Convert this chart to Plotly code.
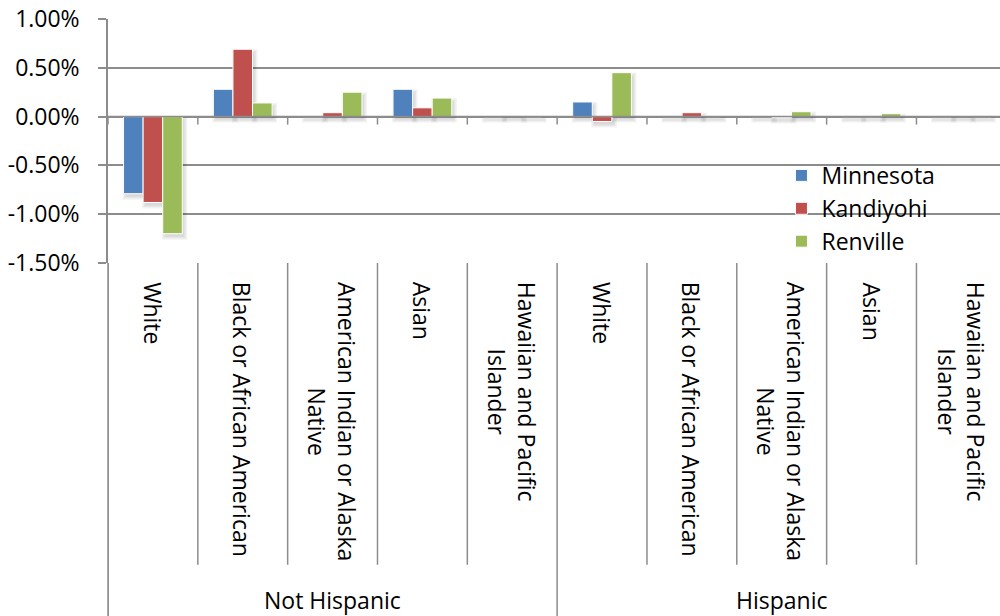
import plotly.graph_objects as go

# Population share change by race, split by Hispanic origin
groups = ["Not Hispanic"] * 5 + ["Hispanic"] * 5
races = ["White", "Black or African American", "American Indian or Alaska Native",
         "Asian", "Hawaiian and Pacific Islander"] * 2
race_labels = ["White", "Black or African American", "American Indian or Alaska<br>Native",
               "Asian", "Hawaiian and Pacific<br>Islander"] * 2

minnesota = [-0.79, 0.28, 0.00, 0.28, 0.00, 0.15, 0.00, 0.00, 0.00, 0.00]
kandiyohi = [-0.88, 0.69, 0.04, 0.09, 0.01, -0.05, 0.04, -0.01, 0.00, 0.005]
renville = [-1.20, 0.14, 0.25, 0.19, 0.00, 0.45, 0.005, 0.05, 0.03, 0.00]

y_tickvals = [1.0, 0.5, 0.0, -0.5, -1.0, -1.5]
y_ticktext = ["1.00%", "0.50%", "0.00%", "-0.50%", "-1.00%", "-1.50%"]

series = [("Minnesota", minnesota, "#4F81BD"),
          ("Kandiyohi", kandiyohi, "#C0504D"),
          ("Renville", renville, "#9BBB59")]

keys = [f"{g} {r}" for g, r in zip(groups, races)]

FONT = "Open Sans"
FS = 23
GRID = "#8c8c8c"

BAR_W = 0.218
PX_X = 1 / 89.8      # one pixel in category units
PX_Y = 2.5 / 244     # one pixel in percent units

fig = go.Figure()

# soft drop shadows behind each bar (several faint layers)
for j, (name, vals, color) in enumerate(series):
    off = (j - 1.5) * BAR_W
    for e in (0.0, 1.5, 3.0):
        fig.add_trace(go.Bar(
            x=keys, y=[v + (2 * e * PX_Y if v >= 0 else -2 * e * PX_Y) for v in vals],
            base=[(-3 - e) * PX_Y if v >= 0 else (-3 + e) * PX_Y for v in vals],
            width=BAR_W + 2 * e * PX_X, offset=off + (2 - e) * PX_X,
            marker=dict(color="rgba(0,0,0,0.05)", line=dict(width=0)),
            showlegend=False, hoverinfo="skip",
        ))

for j, (name, vals, color) in enumerate(series):
    fig.add_trace(go.Bar(
        x=keys, y=vals, name=name,
        width=BAR_W, offset=(j - 1.5) * BAR_W,
        marker=dict(color=color, line=dict(color="white", width=1)),
    ))

n = len(keys)
shapes = []
# axis ticks crossing the zero line at category boundaries
for i in range(n + 1):
    shapes.append(dict(type="line", xref="x", yref="y", x0=i - 0.5, x1=i - 0.5,
                       ysizemode="pixel", yanchor=0, y0=0, y1=-8,
                       line=dict(color=GRID, width=1.5)))
# zero line
shapes.append(dict(type="line", xref="paper", yref="y", x0=0, x1=1, y0=0, y1=0,
                   line=dict(color=GRID, width=1.5)))
# separators of the category label table
for i in range(n + 1):
    outer = i == 0 or i == n or groups[i] != groups[i - 1]
    shapes.append(dict(type="line", xref="x", yref="paper", x0=i - 0.5, x1=i - 0.5,
                       y0=0, y1=-1.447 if outer else -1.237,
                       line=dict(color=GRID, width=1.5)))

annotations = []
for k, lab in zip(keys, race_labels):
    annotations.append(dict(xref="x", yref="paper", x=k, y=-0.07, yanchor="top",
                            xanchor="center", text=lab, textangle=90, showarrow=False,
                            align="center", font=dict(family=FONT, size=FS, color="black")))
for g in ["Not Hispanic", "Hispanic"]:
    idx = [i for i, gg in enumerate(groups) if gg == g]
    mid = (idx[0] + idx[-1]) / 2
    annotations.append(dict(xref="x", yref="paper", x=mid, y=-1.38, yanchor="middle",
                            xanchor="center", text=g, showarrow=False,
                            font=dict(family=FONT, size=FS, color="black")))

fig.update_layout(
    width=1000, height=616,
    margin=dict(l=108, r=0, t=19, b=353),
    paper_bgcolor="white", plot_bgcolor="white",
    barmode="overlay",
    font=dict(family=FONT, size=FS, color="black"),
    showlegend=True,
    legend=dict(x=0.755, y=0.447, xanchor="left", yanchor="top",
                bgcolor="rgba(0,0,0,0)", font=dict(family=FONT, size=FS),
                tracegroupgap=0),
    shapes=shapes, annotations=annotations,
)
fig.update_xaxes(type="category", range=[-0.5, 9.43], showticklabels=False,
                 showgrid=False, zeroline=False, showline=False, ticks="")
fig.update_yaxes(range=[-1.5, 1.0], tickvals=y_tickvals, ticktext=y_ticktext,
                 showgrid=True, gridcolor=GRID, gridwidth=1.5, zeroline=False,
                 showline=True, linecolor=GRID, linewidth=1.5,
                 ticks="outside", ticklen=8, tickcolor=GRID, tickwidth=1.5,
                 ticklabelstandoff=14,
                 tickfont=dict(family=FONT, size=FS, color="black"))
# y-axis line continues down through the label table
fig.add_shape(type="line", xref="paper", yref="paper", x0=0, x1=0, y0=0, y1=-1.447,
              line=dict(color=GRID, width=1.5))

fig.write_html("out.html")
